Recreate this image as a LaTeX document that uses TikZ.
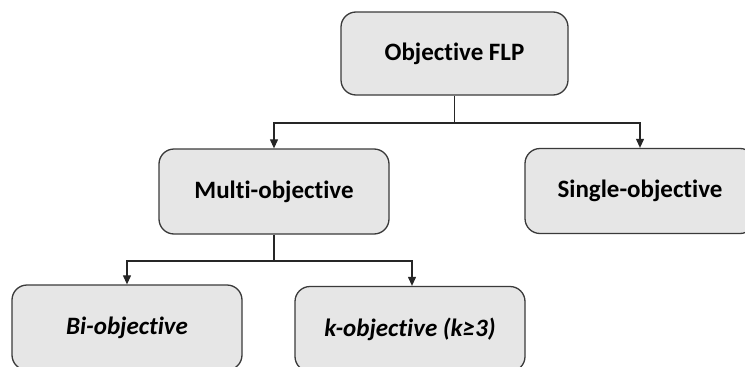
\documentclass[tikz,border=0pt]{standalone}
\usepackage{fontspec}
\setmainfont{Carlito}[RawFeature={-liga;-clig}]
\usetikzlibrary{arrows.meta}
\definecolor{boxfill}{HTML}{E6E6E6}
\definecolor{boxline}{HTML}{3A3A3A}
\begin{document}
\begin{tikzpicture}[x=1pt,y=-1pt,
  catbox/.style={draw=boxline,fill=boxfill,line width=1.3pt,rounded corners=15pt,
    minimum width=230pt,minimum height=85pt,inner sep=0pt,
    font=\fontsize{25}{30}\selectfont\bfseries},
  subbox/.style={catbox,font=\fontsize{25}{30}\selectfont\bfseries\itshape},
  link/.style={draw=black!85,line width=1.1pt,-{Triangle[length=9pt,width=8pt]}}]
  \useasboundingbox (0,0) rectangle (745,367);
  \clip (0,0) rectangle (745,367);
  % category tree
  \node[catbox,minimum width=227pt,minimum height=83pt] (root) at (454.5,53.5) {Objective FLP};
  \node[catbox] (multi) at (274,191.5) {Multi-objective};
  \node[catbox] (single) at (640,191) {Single-objective};
  \node[subbox] (bi) at (127,327.5) {Bi-objective};
  \node[subbox] (kobj) at (410,329) {k-objective (k≥3)};
  % branches of the root
  \coordinate (rj) at (454.5,123);
  \draw[link] (root.south) -- (rj) -| (multi.north);
  \draw[link] (rj) -| (single.north);
  % branches of the multi-objective class
  \coordinate (mj) at (274,261);
  \draw[link] (multi.south) -- (mj) -| (bi.north);
  \draw[link] (mj) -| ([xshift=2pt]kobj.north);
\end{tikzpicture}
\end{document}
